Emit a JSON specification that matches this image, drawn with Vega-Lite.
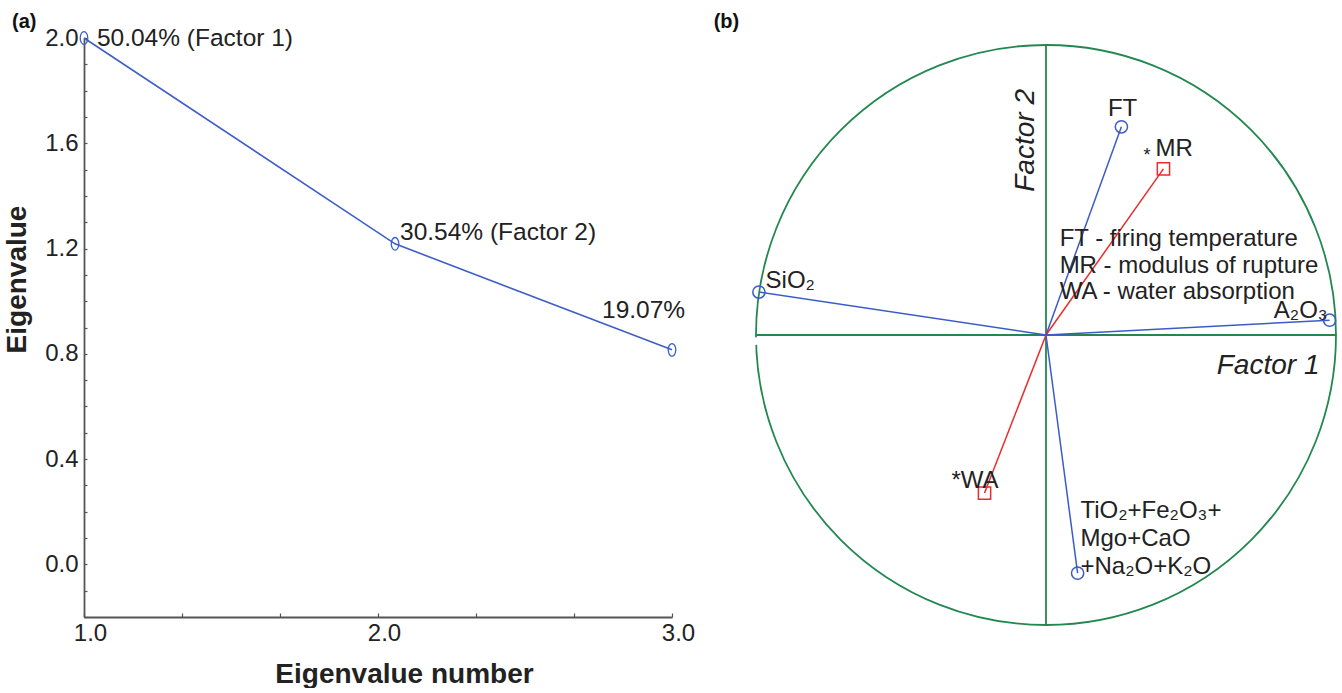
{
  "$schema": "https://vega.github.io/schema/vega-lite/v6.json",
  "padding": {"left": 3, "top": 11, "right": 0, "bottom": 0},
  "bounds": "flush",
  "spacing": 84,
  "config": {
    "view": {"stroke": null},
    "font": "Liberation Sans",
    "text": {"font": "Liberation Sans", "color": "#222222"}
  },
  "datasets": {
    "scree": [
      {"n": 1.0, "ev": 2.0},
      {"n": 2.058, "ev": 1.218},
      {"n": 3.0, "ev": 0.815}
    ],
    "screeLabels": [
      {"n": 1.044, "ev": 1.97, "label": "50.04% (Factor 1)"},
      {"n": 2.075, "ev": 1.233, "label": "30.54% (Factor 2)"},
      {"n": 2.762, "ev": 0.936, "label": "19.07%"}
    ],
    "loadings": [
      {"var": "FT", "x0": 0, "y0": 0, "x": 0.26, "y": 0.718, "kind": "variable"},
      {"var": "MR", "x0": 0, "y0": 0, "x": 0.405, "y": 0.573, "kind": "response"},
      {"var": "SiO2", "x0": 0, "y0": 0, "x": -0.99, "y": 0.148, "kind": "variable"},
      {"var": "Al2O3", "x0": 0, "y0": 0, "x": 0.978, "y": 0.051, "kind": "variable"},
      {"var": "WA", "x0": 0, "y0": 0, "x": -0.212, "y": -0.545, "kind": "response"},
      {"var": "Fluxes", "x0": 0, "y0": 0, "x": 0.109, "y": -0.821, "kind": "variable"}
    ]
  },
  "hconcat": [
    {
      "width": 588,
      "height": 579,
      "encoding": {
        "x": {
          "field": "n",
          "type": "quantitative",
          "scale": {"domain": [1, 3], "nice": false, "zero": false},
          "axis": {
            "values": [1, 1.3333333, 1.6666667, 2, 2.3333333, 2.6666667, 3],
            "labelExpr": "abs(datum.value - round(datum.value)) < 0.01 ? format(datum.value, '.1f') : ''",
            "labelOverlap": false,
            "labelFlush": false,
            "labelFontSize": 24,
            "labelColor": "#222222",
            "labelPadding": 8,
            "labelOffset": 6,
            "tickSize": -4,
            "tickColor": "#555555",
            "tickWidth": 1.2,
            "domainColor": "#555555",
            "domainWidth": 1.8,
            "grid": false,
            "title": "Eigenvalue number",
            "titleFontSize": 28,
            "titleFontWeight": "bold",
            "titleColor": "#222222",
            "titleX": 320,
            "titleY": 65,
            "titleAlign": "center",
            "titleBaseline": "alphabetic"
          }
        },
        "y": {
          "field": "ev",
          "type": "quantitative",
          "scale": {"domain": [-0.2, 2.0], "nice": false, "zero": false},
          "axis": {
            "values": [-0.2, -0.1, 0, 0.1, 0.2, 0.3, 0.4, 0.5, 0.6, 0.7, 0.8, 0.9, 1.0, 1.1, 1.2, 1.3, 1.4, 1.5, 1.6, 1.7, 1.8, 1.9, 2.0],
            "labelExpr": "abs(datum.value / 0.4 - round(datum.value / 0.4)) < 0.01 ? format(datum.value, '.1f') : ''",
            "labelOverlap": false,
            "labelFlush": false,
            "labelFontSize": 24,
            "labelColor": "#222222",
            "labelPadding": 9,
            "tickSize": -3,
            "tickColor": "#555555",
            "tickWidth": 1.2,
            "domainColor": "#555555",
            "domainWidth": 1.8,
            "grid": false,
            "title": "Eigenvalue",
            "titleFontSize": 28,
            "titleFontWeight": "bold",
            "titleColor": "#222222",
            "titleX": -59,
            "titleY": 241,
            "titleAngle": 270,
            "titleAlign": "center",
            "titleBaseline": "alphabetic"
          }
        }
      },
      "layer": [
        {
          "data": {"name": "scree"},
          "mark": {"type": "line", "color": "#3f5fc6", "strokeWidth": 1.6}
        },
        {
          "data": {"name": "scree"},
          "mark": {
            "type": "point",
            "shape": "M0,-1A0.6,1 0 1,1 0,1A0.6,1 0 1,1 0,-1Z",
            "filled": false,
            "stroke": "#3f5fc6",
            "strokeWidth": 1.3,
            "size": 160,
            "opacity": 1
          }
        },
        {
          "data": {"name": "screeLabels"},
          "mark": {"type": "text", "align": "left", "baseline": "alphabetic", "fontSize": 24.5, "color": "#222222"},
          "encoding": {"text": {"field": "label"}}
        },
        {
          "data": {"values": [{"n": 0.755, "ev": 2.038, "label": "(a)"}]},
          "mark": {"type": "text", "align": "left", "baseline": "alphabetic", "fontSize": 20, "fontWeight": "bold", "color": "#111111"},
          "encoding": {"text": {"field": "label"}}
        }
      ]
    },
    {
      "width": 580,
      "height": 587,
      "layer": [
        {
          "data": {"values": [{"x": 0, "y": 0}]},
          "mark": {"type": "point", "shape": "circle", "size": 336400, "filled": false, "stroke": "#23884f", "strokeWidth": 1.8, "opacity": 1},
          "encoding": {
            "x": {"field": "x", "type": "quantitative", "scale": {"domain": [-1, 1], "nice": false, "zero": false}, "axis": null},
            "y": {"field": "y", "type": "quantitative", "scale": {"domain": [-1, 1.0241], "nice": false, "zero": false}, "axis": null}
          }
        },
        {
          "data": {"values": [
            {"x": -1, "y": 0, "x2": 1, "y2": 0},
            {"x": 0, "y": -1, "x2": 0, "y2": 1}
          ]},
          "mark": {"type": "rule", "color": "#23884f", "strokeWidth": 1.8},
          "encoding": {
            "x": {"field": "x", "type": "quantitative"},
            "y": {"field": "y", "type": "quantitative"},
            "x2": {"field": "x2"},
            "y2": {"field": "y2"}
          }
        },
        {
          "data": {"values": [{"x": -1.0, "y": -0.008, "y2": -0.034}]},
          "mark": {"type": "rule", "color": "#ffffff", "strokeWidth": 5},
          "encoding": {
            "x": {"field": "x", "type": "quantitative"},
            "y": {"field": "y", "type": "quantitative"},
            "y2": {"field": "y2"}
          }
        },
        {
          "data": {"name": "loadings"},
          "mark": {"type": "rule", "strokeWidth": 1.5},
          "encoding": {
            "x": {"field": "x0", "type": "quantitative"},
            "y": {"field": "y0", "type": "quantitative"},
            "x2": {"field": "x"},
            "y2": {"field": "y"},
            "color": {"field": "kind", "type": "nominal", "scale": {"domain": ["variable", "response"], "range": ["#3b5cc7", "#ec2a2a"]}, "legend": null}
          }
        },
        {
          "data": {"name": "loadings"},
          "mark": {"type": "point", "filled": false, "size": 150, "strokeWidth": 1.5, "opacity": 1},
          "encoding": {
            "x": {"field": "x", "type": "quantitative"},
            "y": {"field": "y", "type": "quantitative"},
            "color": {"field": "kind", "type": "nominal", "scale": {"domain": ["variable", "response"], "range": ["#3b5cc7", "#ec2a2a"]}, "legend": null},
            "shape": {"field": "kind", "type": "nominal", "scale": {"domain": ["variable", "response"], "range": ["circle", "square"]}, "legend": null}
          }
        },
        {
          "data": {"values": [
            {"x": 0.378, "y": 0.617, "label": "MR"},
            {"x": 0.047, "y": 0.307, "label": "FT - firing temperature"},
            {"x": 0.047, "y": 0.214, "label": "MR - modulus of rupture"},
            {"x": 0.047, "y": 0.124, "label": "WA - water absorption"},
            {"x": -0.967, "y": 0.162, "label": "SiO₂"},
            {"x": -0.326, "y": -0.528, "label": "*WA"},
            {"x": 0.119, "y": -0.631, "label": "TiO₂+Fe₂O₃+"},
            {"x": 0.119, "y": -0.728, "label": "Mgo+CaO"},
            {"x": 0.119, "y": -0.824, "label": "+Na₂O+K₂O"}
          ]},
          "mark": {"type": "text", "align": "left", "baseline": "alphabetic", "fontSize": 24, "color": "#222222"},
          "encoding": {
            "x": {"field": "x", "type": "quantitative"},
            "y": {"field": "y", "type": "quantitative"},
            "text": {"field": "label"}
          }
        },
        {
          "data": {"values": [{"x": 0.264, "y": 0.755, "label": "FT"}]},
          "mark": {"type": "text", "align": "center", "baseline": "alphabetic", "fontSize": 24, "color": "#222222"},
          "encoding": {
            "x": {"field": "x", "type": "quantitative"},
            "y": {"field": "y", "type": "quantitative"},
            "text": {"field": "label"}
          }
        },
        {
          "data": {"values": [{"x": 0.348, "y": 0.6, "label": "*"}]},
          "mark": {"type": "text", "align": "center", "baseline": "alphabetic", "fontSize": 18, "color": "#222222"},
          "encoding": {
            "x": {"field": "x", "type": "quantitative"},
            "y": {"field": "y", "type": "quantitative"},
            "text": {"field": "label"}
          }
        },
        {
          "data": {"values": [{"x": 0.971, "y": 0.059, "label": "A₂O₃"}]},
          "mark": {"type": "text", "align": "right", "baseline": "alphabetic", "fontSize": 24, "color": "#222222"},
          "encoding": {
            "x": {"field": "x", "type": "quantitative"},
            "y": {"field": "y", "type": "quantitative"},
            "text": {"field": "label"}
          }
        },
        {
          "data": {"values": [{"x": 0.943, "y": -0.134, "label": "Factor 1"}]},
          "mark": {"type": "text", "align": "right", "baseline": "alphabetic", "fontSize": 28, "fontStyle": "italic", "color": "#222222"},
          "encoding": {
            "x": {"field": "x", "type": "quantitative"},
            "y": {"field": "y", "type": "quantitative"},
            "text": {"field": "label"}
          }
        },
        {
          "data": {"values": [{"x": -0.043, "y": 0.671, "label": "Factor 2"}]},
          "mark": {"type": "text", "align": "center", "baseline": "alphabetic", "angle": 270, "fontSize": 28, "fontStyle": "italic", "color": "#222222"},
          "encoding": {
            "x": {"field": "x", "type": "quantitative"},
            "y": {"field": "y", "type": "quantitative"},
            "text": {"field": "label"}
          }
        },
        {
          "data": {"values": [{"x": -1.102, "y": 1.059, "label": "(b)"}]},
          "mark": {"type": "text", "align": "center", "baseline": "alphabetic", "fontSize": 20, "fontWeight": "bold", "color": "#111111"},
          "encoding": {
            "x": {"field": "x", "type": "quantitative"},
            "y": {"field": "y", "type": "quantitative"},
            "text": {"field": "label"}
          }
        }
      ]
    }
  ]
}
